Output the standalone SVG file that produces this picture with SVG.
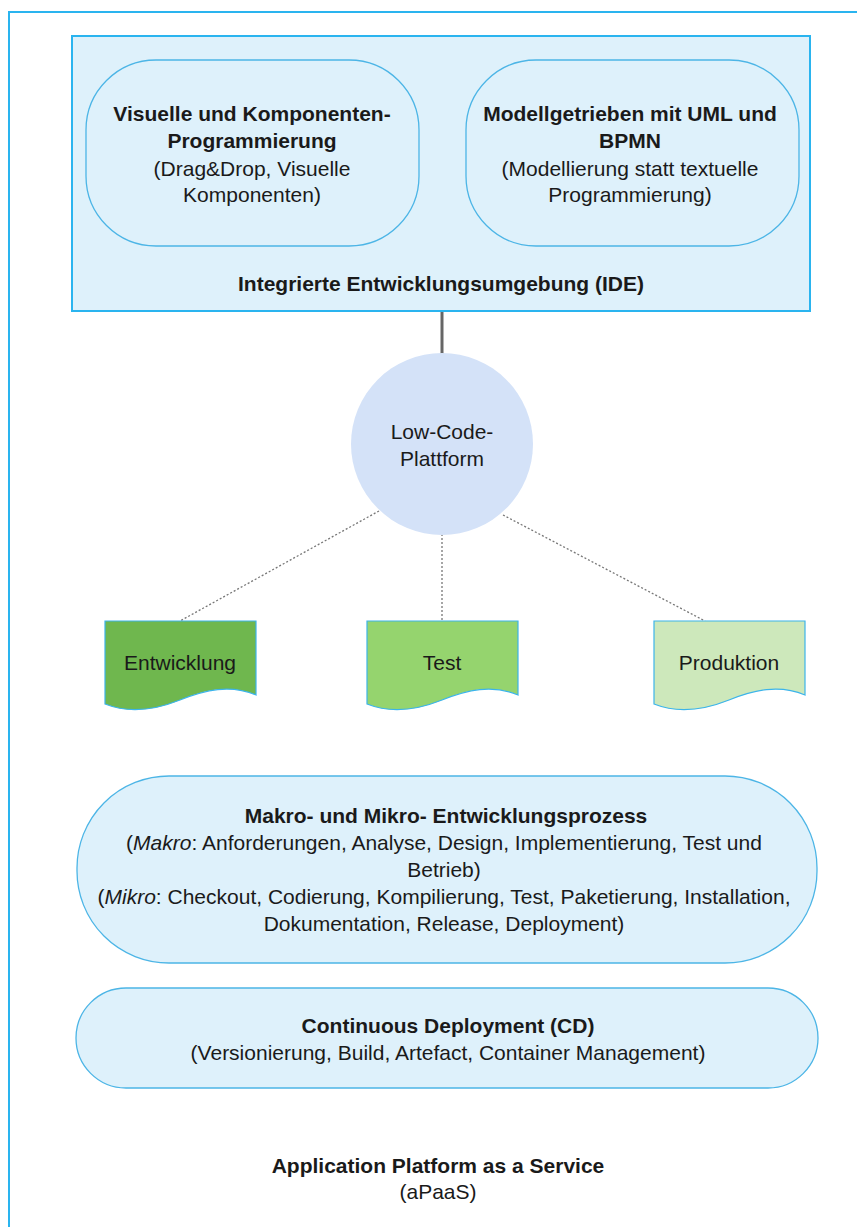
<svg xmlns="http://www.w3.org/2000/svg" width="857" height="1227" viewBox="0 0 857 1227">
  <style>
    text { font-family: "Liberation Sans", Arial, sans-serif; fill: #1a1a1a; text-anchor: middle; font-size: 21px; }
    .b { font-weight: bold; }
    .box { fill: #def1fb; stroke: #2ab4ef; stroke-width: 2; }
    .pill { fill: #def1fb; stroke: #4cb5e6; stroke-width: 1.3; }
    .doc { stroke: #3cb4ea; stroke-width: 1.2; }
    .dot { fill: none; stroke: #777; stroke-width: 1.3; stroke-dasharray: 2 2; }
  </style>

  <!-- outer aPaaS frame -->
  <g id="apaas">
    <rect x="9" y="12" width="900" height="1300" fill="#ffffff" stroke="#2ab4ef" stroke-width="2"/>
    <text class="b" x="438" y="1173">Application Platform as a Service</text>
    <text x="438" y="1199">(aPaaS)</text>
  </g>

  <!-- connectors -->
  <g id="connectors">
    <line x1="442" y1="311" x2="442" y2="354" stroke="#666" stroke-width="3"/>
    <line class="dot" x1="379" y1="511" x2="180" y2="621"/>
    <line class="dot" x1="442" y1="534" x2="442" y2="621"/>
    <line class="dot" x1="503" y1="515" x2="705" y2="621"/>
  </g>

  <!-- IDE container -->
  <g id="ide">
    <rect class="box" x="72" y="36" width="738" height="275"/>
    <text class="b" x="441" y="291">Integrierte Entwicklungsumgebung (IDE)</text>
  </g>

  <g id="visual">
    <rect class="pill" x="86" y="60" width="333" height="186" rx="70" ry="70"/>
    <text class="b" x="252" y="121">Visuelle und Komponenten-</text>
    <text class="b" x="252" y="148">Programmierung</text>
    <text x="252" y="176">(Drag&amp;Drop, Visuelle</text>
    <text x="252" y="202">Komponenten)</text>
  </g>

  <g id="model">
    <rect class="pill" x="466" y="60" width="333" height="186" rx="70" ry="70"/>
    <text class="b" x="630" y="121">Modellgetrieben mit UML und</text>
    <text class="b" x="630" y="148">BPMN</text>
    <text x="630" y="176">(Modellierung statt textuelle</text>
    <text x="630" y="202">Programmierung)</text>
  </g>

  <!-- platform hub -->
  <g id="platform">
    <circle cx="442" cy="444" r="91" fill="#d4e2f8"/>
    <text x="442" y="439">Low-Code-</text>
    <text x="442" y="466">Plattform</text>
  </g>

  <!-- stage documents -->
  <g id="entwicklung">
    <path class="doc" fill="#6fb74e" d="M105,621 H256 V695 C230,684 205,690 180,700 C155,710 130,714 105,704 Z"/>
    <text x="180" y="670">Entwicklung</text>
  </g>
  <g id="test">
    <path class="doc" fill="#95d46e" d="M367,621 H518 V695 C492,684 467,690 442,700 C417,710 392,714 367,704 Z"/>
    <text x="442" y="670">Test</text>
  </g>
  <g id="produktion">
    <path class="doc" fill="#cde8bb" d="M654,621 H805 V695 C779,684 754,690 729,700 C704,710 679,714 654,704 Z"/>
    <text x="729" y="670">Produktion</text>
  </g>

  <!-- development process -->
  <g id="prozess">
    <rect class="pill" x="77" y="776" width="740" height="187" rx="92" ry="92"/>
    <text class="b" x="446" y="823">Makro- und Mikro- Entwicklungsprozess</text>
    <text x="444" y="850">(<tspan font-style="italic">Makro</tspan>: Anforderungen, Analyse, Design, Implementierung, Test und</text>
    <text x="444" y="877">Betrieb)</text>
    <text x="444" y="904">(<tspan font-style="italic">Mikro</tspan>: Checkout, Codierung, Kompilierung, Test, Paketierung, Installation,</text>
    <text x="444" y="931">Dokumentation, Release, Deployment)</text>
  </g>

  <!-- continuous deployment -->
  <g id="cd">
    <rect class="pill" x="76" y="988" width="742" height="100" rx="50" ry="50"/>
    <text class="b" x="448" y="1033">Continuous Deployment (CD)</text>
    <text x="448" y="1060">(Versionierung, Build, Artefact, Container Management)</text>
  </g>
</svg>
